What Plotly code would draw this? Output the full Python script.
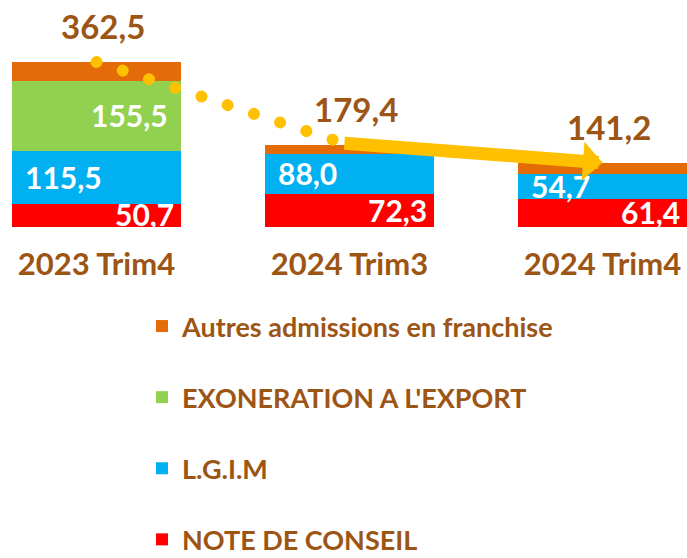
import plotly.graph_objects as go

categories = ["2023 Trim4", "2024 Trim3", "2024 Trim4"]
note_conseil = [50.7, 72.3, 61.4]
lgim = [115.5, 88.0, 54.7]
exoneration = [155.5, 0.0, 0.0]
autres = [40.8, 19.1, 25.1]

series_names = ["NOTE DE CONSEIL", "L.G.I.M", "EXONERATION A L'EXPORT",
                "Autres admissions en franchise"]
series_values = [note_conseil, lgim, exoneration, autres]
series_colors = ["#FF0000", "#00B0F0", "#92D050", "#E36C09"]

BROWN = "#9C5514"
FONT = "Lato"
xs = list(range(len(categories)))
BAR_W = 0.668
W, H = 687, 558
PLOT_BOTTOM = 227  # px from top


def fmt(v):
    return f"{v:.1f}".replace(".", ",")


fig = go.Figure()
n = len(series_names)
for k, (name, vals, col) in enumerate(zip(series_names, series_values, series_colors)):
    fig.add_trace(go.Bar(
        x=xs, y=vals, name=name, width=BAR_W,
        marker=dict(color=col, line=dict(width=0)),
        legendgroup=name, legendrank=n - k, hoverinfo="skip",
    ))

annotations = []
# inner labels (anchored just inside the bar edges so they stay within the axis range)
INSET = 0.02
bases = [0.0] * len(categories)
label_style = {
    "NOTE DE CONSEIL": ("right", 0),
    "L.G.I.M": ("left", 6),
    "EXONERATION A L'EXPORT": ("right", -6),
}
for name, vals in zip(series_names, series_values):
    for i, v in enumerate(vals):
        if name in label_style and v > 0:
            anchor, shift = label_style[name]
            if anchor == "right":
                xpos = xs[i] + BAR_W / 2 - INSET
            else:
                xpos = xs[i] - BAR_W / 2 + INSET
            annotations.append(dict(
                x=xpos, y=bases[i] + v / 2, xref="x", yref="y",
                text=fmt(v), showarrow=False, xanchor=anchor, yanchor="middle",
                xshift=shift, yshift=1,
                font=dict(family=FONT, size=30, color="white", weight="bold"),
            ))
        bases[i] += v

totals = [sum(s[i] for s in series_values) for i in range(len(categories))]
for i, t in enumerate(totals):
    annotations.append(dict(
        x=xs[i], y=t, xref="x", yref="y", text=fmt(t), showarrow=False,
        xanchor="center", yanchor="bottom", xshift=6, yshift=14,
        font=dict(family=FONT, size=33, color=BROWN, weight="bold"),
    ))

# trend arrow from Trim3 total to Trim4 total
mid_x = xs[1] - 0.026
mid_y = totals[1] + 5
annotations.append(dict(
    x=xs[2], y=totals[2], ax=mid_x, ay=mid_y, xref="x", yref="y",
    axref="x", ayref="y", text="", showarrow=True, arrowhead=1,
    arrowsize=0.5, arrowwidth=13, arrowcolor="#FFC000", standoff=0,
))

shapes = [dict(
    type="line", xref="x", yref="y", x0=xs[0], y0=totals[0], x1=mid_x, y1=mid_y,
    line=dict(color="#FFC000", width=12, dash="12px,16px"), layer="above",
)]

x_left_px = 96.5
spacing_px = 253
px_per_unit = (PLOT_BOTTOM - 62) / totals[0]

fig.update_layout(
    width=W, height=H, autosize=False,
    margin=dict(l=0, r=0, t=0, b=0, autoexpand=False),
    paper_bgcolor="white", plot_bgcolor="white",
    barmode="stack", bargap=0,
    xaxis=dict(range=[-x_left_px / spacing_px, (W - x_left_px) / spacing_px],
               tickvals=xs, ticktext=categories, showgrid=False, zeroline=False,
               showline=False, ticks="", ticklabelstandoff=16, automargin=False,
               tickfont=dict(family=FONT, size=31, color=BROWN, weight="bold")),
    yaxis=dict(domain=[1 - PLOT_BOTTOM / H, 1], automargin=False,
               range=[0, PLOT_BOTTOM / px_per_unit], visible=False),
    showlegend=True,
    legend=dict(x=142 / W, xanchor="left", y=1 - 302 / H, yanchor="top",
                traceorder="grouped", tracegroupgap=33,
                font=dict(family=FONT, size=27, color=BROWN, weight="bold"),
                bgcolor="rgba(0,0,0,0)", itemclick=False),
    annotations=annotations, shapes=shapes,
)

post = """
document.body.style.margin = '0';
document.body.style.padding = '0';
document.body.style.overflow = 'hidden';
var gd = document.getElementById('{plot_id}');
function roundDots(){
  gd.querySelectorAll('.shapelayer path').forEach(function(p){
    p.style.strokeLinecap = 'round';
    p.style.strokeDasharray = '0.01px,27.6px';
  });
}
roundDots();
if (gd.on) { gd.on('plotly_afterplot', roundDots); }
"""
fig.write_html("out.html", post_script=post, config={"displayModeBar": False})
